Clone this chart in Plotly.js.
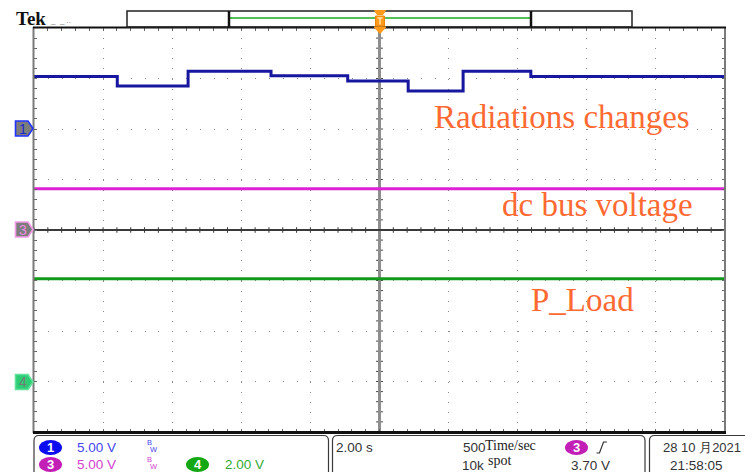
<!DOCTYPE html>
<html>
<head>
<meta charset="utf-8">
<script src="https://cdn.plot.ly/plotly-3.0.1.min.js"></script>
<style>
  html, body { margin: 0; padding: 0; background: #fff; }
  #scope { width: 745px; height: 472px; }
</style>
</head>
<body>
<div id="scope"></div>
<script>
// ---- acquisition data (time in s, trigger at 0; amplitudes in V) ----
const ch1Time  = [-10, -7.59, -5.54, -3.14, -0.92, 0.83, 2.42, 4.38, 10];
const ch1Volts = [5.21, 4.25, 5.73, 5.28, 4.75, 3.76, 5.73, 5.21, 5.21];
const ch3Time  = [-10, 10];
const ch3Volts = [4.08, 4.08];
const ch4Time  = [-10, 10];
const ch4Volts = [4.07, 4.07];

const traceNames  = ['Radiations changes', 'dc bus voltage', 'P_Load'];
const chScale     = ['5.00 V', '5.00 V', '2.00 V'];   // ch1, ch3, ch4 volts/div
const timeBase    = '2.00 s';
const sampleRate  = ['500', '10k'];
const trigLevel   = '3.70 V';
const stamp       = ['28 10 月2021', '21:58:05'];

// ---- screen geometry helpers (pixel -> paper) ----
const L = 34, T = 28, PW = 691, PH = 404;
const px = x => (x - L) / PW;
const py = y => (T + PH - y) / PH;
const P = pts => pts.map(p => (typeof p === 'string' ? p : (px(p[0]) + ',' + py(p[1])))).join(' ');

const BLUE = '#16169e', MAG = '#dc22d4', GRN = '#139a1c', ORANGE = '#ff6a33';

const traces = [
  { x: ch1Time, y: ch1Volts, yaxis: 'y2', mode: 'lines', line: { color: BLUE, width: 3, shape: 'hv' }, hoverinfo: 'skip' },
  { x: ch3Time, y: ch3Volts, yaxis: 'y3', mode: 'lines', line: { color: MAG, width: 3 }, hoverinfo: 'skip' },
  { x: ch4Time, y: ch4Volts, yaxis: 'y4', mode: 'lines', line: { color: GRN, width: 3 }, hoverinfo: 'skip' }
];

const shapes = [];
const annotations = [];

// centre crosshair ticks (1/5 division)
for (let k = -50; k <= 50; k++) {
  const t = k * 0.4;
  shapes.push({ type: 'line', xref: 'x', yref: 'y', x0: t, x1: t, y0: -0.055, y1: 0.055,
    line: { color: '#333', width: 1 }, layer: 'below' });
}
for (let j = -20; j <= 20; j++) {
  const d = j * 0.2;
  shapes.push({ type: 'line', xref: 'x', yref: 'y', x0: -0.1, x1: 0.1, y0: d, y1: d,
    line: { color: '#444', width: 1 }, layer: 'below' });
}

// graticule border
shapes.push({ type: 'line', xref: 'paper', yref: 'paper', x0: px(33.5), x1: px(33.5), y0: py(27), y1: py(433), line: { color: '#7a7a7a', width: 2 } });
shapes.push({ type: 'line', xref: 'paper', yref: 'paper', x0: px(725), x1: px(725), y0: py(27), y1: py(433), line: { color: '#7a7a7a', width: 2 } });
shapes.push({ type: 'line', xref: 'paper', yref: 'paper', x0: px(33), x1: px(726), y0: py(27.5), y1: py(27.5), line: { color: '#111', width: 2 } });
shapes.push({ type: 'line', xref: 'paper', yref: 'paper', x0: px(33), x1: px(726), y0: py(432.5), y1: py(432.5), line: { color: '#111', width: 3 } });

// record-length bar on top
shapes.push({ type: 'rect', xref: 'paper', yref: 'paper', x0: px(127), x1: px(632), y0: py(11), y1: py(27), line: { color: '#222', width: 1.5 } });
shapes.push({ type: 'line', xref: 'paper', yref: 'paper', x0: px(229), x1: px(531), y0: py(18), y1: py(18), line: { color: '#1fa81f', width: 1.5 } });
[229, 531].forEach(x => shapes.push({ type: 'line', xref: 'paper', yref: 'paper', x0: px(x), x1: px(x), y0: py(11), y1: py(27), line: { color: '#111', width: 2.5 } }));

// trigger position marker
const TO = '#ff9a1a';
shapes.push({ type: 'path', xref: 'paper', yref: 'paper', fillcolor: TO, line: { color: TO, width: 1 },
  path: 'M' + P([[374.5, 10.5], 'L', [385.5, 10.5], 'L', [383, 14.5], 'L', [377, 14.5]]) + ' Z' });
shapes.push({ type: 'path', xref: 'paper', yref: 'paper', fillcolor: TO, line: { color: '#e98500', width: 1 },
  path: 'M' + P([[375.5, 16], 'L', [384.5, 16], 'L', [384.5, 26], 'L', [375.5, 26]]) + ' Z' });
shapes.push({ type: 'path', xref: 'paper', yref: 'paper', fillcolor: TO, line: { color: TO, width: 1 },
  path: 'M' + P([[374, 27], 'L', [386, 27], 'L', [380, 33.5]]) + ' Z' });
shapes.push({ type: 'path', xref: 'paper', yref: 'paper', line: { color: '#ffe2b0', width: 1.5 },
  path: 'M' + P([[377.5, 18], 'L', [382.5, 18], 'M', [380, 18], 'L', [380, 24.5]]) });

// channel ground markers
function flag(y, fill, edge, digit, digitColor) {
  shapes.push({ type: 'path', xref: 'paper', yref: 'paper', fillcolor: fill, line: { color: edge, width: 1.6 },
    path: 'M' + P([[15.5, y - 7.5], 'L', [28, y - 7.5], 'L', [33, y], 'L', [28, y + 7.5], 'L', [15.5, y + 7.5]]) + ' Z' });
  annotations.push({ xref: 'paper', yref: 'paper', x: px(22.5), y: py(y), text: digit, showarrow: false,
    xanchor: 'center', yanchor: 'middle', font: { family: 'Liberation Sans', size: 14, color: digitColor } });
}
flag(128.5, '#7d7d7d', '#2233ff', '1', '#1a2acc');
flag(229.5, '#7d7d7d', '#f39ae6', '3', '#f08ae0');
flag(382, '#2ecc74', '#5fe39a', '4', '#6f7f75');

// status bar frames
function frame(x0, x1, openRight) {
  const r = 5, yTop = 435.5, yBot = 478;
  let path = 'M' + P([[x0, yBot], 'L', [x0, yTop + r], 'Q', [x0, yTop], [x0 + r, yTop], 'L']);
  if (openRight) path += ' ' + P([[x1, yTop]]);
  else path += ' ' + P([[x1 - r, yTop], 'Q', [x1, yTop], [x1, yTop + r], 'L', [x1, yBot]]);
  shapes.push({ type: 'path', xref: 'paper', yref: 'paper', line: { color: '#3a3a3a', width: 1.2 }, path });
}
frame(34, 328.5, false);
frame(332.5, 645, false);
frame(649.5, 760, true);

// channel badges
function pill(cx, cy, fill, digit) {
  shapes.push({ type: 'circle', xref: 'paper', yref: 'paper', x0: px(cx - 11.5), x1: px(cx + 11.5), y0: py(cy - 7.5), y1: py(cy + 7.5),
    fillcolor: fill, line: { color: fill, width: 0 } });
  annotations.push({ xref: 'paper', yref: 'paper', x: px(cx), y: py(cy), text: '<b>' + digit + '</b>', showarrow: false,
    xanchor: 'center', yanchor: 'middle', font: { family: 'Liberation Sans', size: 13, color: '#fff' } });
}
pill(50.5, 447.5, '#0c0cf0', '1');
pill(50.5, 464.5, '#c21fb6', '3');
pill(197.5, 464.5, '#13a813', '4');
pill(576.5, 447.5, '#c21fb6', '3');

function txt(text, x, y, size, color, family, anchor) {
  annotations.push({ xref: 'paper', yref: 'paper', x: px(x), y: py(y), text, showarrow: false,
    xanchor: anchor || 'left', yanchor: 'middle', font: { family: family || 'Liberation Sans', size, color } });
}
// vertical scale readouts
txt(chScale[0], 75, 447.5, 13.5, '#4646ee');
txt(chScale[1], 75, 464.5, 13.5, '#d23fcf');
txt(chScale[2], 223, 464.5, 13.5, '#33ab33');
txt('B', 145, 442.5, 7.5, '#4646ee'); txt('W', 148, 449, 7.5, '#4646ee');
txt('B', 145, 459.5, 7.5, '#d23fcf'); txt('W', 148, 466, 7.5, '#d23fcf');
// horizontal / trigger readouts
txt(timeBase, 334, 447, 13.5, '#333');
txt(sampleRate[0], 461, 447.5, 13.5, '#333');
txt('Time/sec', 483.5, 445, 14, '#222', 'Liberation Serif');
txt(sampleRate[1], 460, 465, 13.5, '#333');
txt('spot', 486, 460, 14, '#222', 'Liberation Serif');
txt(trigLevel, 569, 465, 13.5, '#333');
shapes.push({ type: 'path', xref: 'paper', yref: 'paper', line: { color: '#333', width: 1.2 },
  path: 'M' + P([[596.5, 453], 'L', [599.5, 453], 'L', [603.5, 442], 'L', [607, 442]]) });
txt(stamp[0], 743, 447, 13, '#333', 'Liberation Sans', 'right');
txt(stamp[1], 668, 465, 13.5, '#333');

// brand and waveform captions
txt('<b>Tek</b>', 13.5, 18.5, 19, '#111', 'Liberation Serif');
txt('_  _ ..', 48, 21, 8, '#777');
txt(traceNames[0], 431.5, 117.5, 33, ORANGE, 'Liberation Serif');
txt(traceNames[1], 499.5, 205.5, 33, ORANGE, 'Liberation Serif');
txt(traceNames[2], 529, 300, 33, ORANGE, 'Liberation Serif');

const tickCol = '#666';
const layout = {
  width: 745, height: 472,
  margin: { l: L, r: 745 - L - PW, t: T, b: 472 - T - PH, pad: 0 },
  paper_bgcolor: '#fff', plot_bgcolor: '#fff',
  showlegend: false,
  xaxis: {
    range: [-10, 10], tick0: 0, dtick: 2, showticklabels: false,
    showgrid: true, gridcolor: '#8a8a8a', gridwidth: 1, griddash: '1px,9.1px',
    zeroline: true, zerolinecolor: '#8e8e8e', zerolinewidth: 3,
    ticks: 'inside', ticklen: 3, tickcolor: tickCol, tickwidth: 1, mirror: 'ticks', showline: false,
    minor: { dtick: 0.4, tick0: 0, ticks: 'inside', ticklen: 3, tickcolor: tickCol, showgrid: false },
    fixedrange: true
  },
  yaxis: {
    range: [-4, 4], tick0: 0, dtick: 1, showticklabels: false,
    showgrid: true, gridcolor: '#8a8a8a', gridwidth: 1, griddash: '1px,12.82px',
    zeroline: true, zerolinecolor: '#3a3a3a', zerolinewidth: 1.5,
    ticks: 'inside', ticklen: 3, tickcolor: tickCol, tickwidth: 1, mirror: 'ticks', showline: false,
    minor: { dtick: 0.2, tick0: 0, ticks: 'inside', ticklen: 3, tickcolor: tickCol, showgrid: false },
    fixedrange: true
  },
  // ch1: 5 V/div, ground 2 div above centre
  yaxis2: { overlaying: 'y', range: [-30, 10], visible: false, fixedrange: true },
  // ch3: 5 V/div, ground at centre
  yaxis3: { overlaying: 'y', range: [-20, 20], visible: false, fixedrange: true },
  // ch4: 2 V/div, ground 3 div below centre
  yaxis4: { overlaying: 'y', range: [-2, 14], visible: false, fixedrange: true },
  shapes, annotations
};

Plotly.newPlot('scope', traces, layout, { staticPlot: true, displayModeBar: false });
</script>
</body>
</html>
